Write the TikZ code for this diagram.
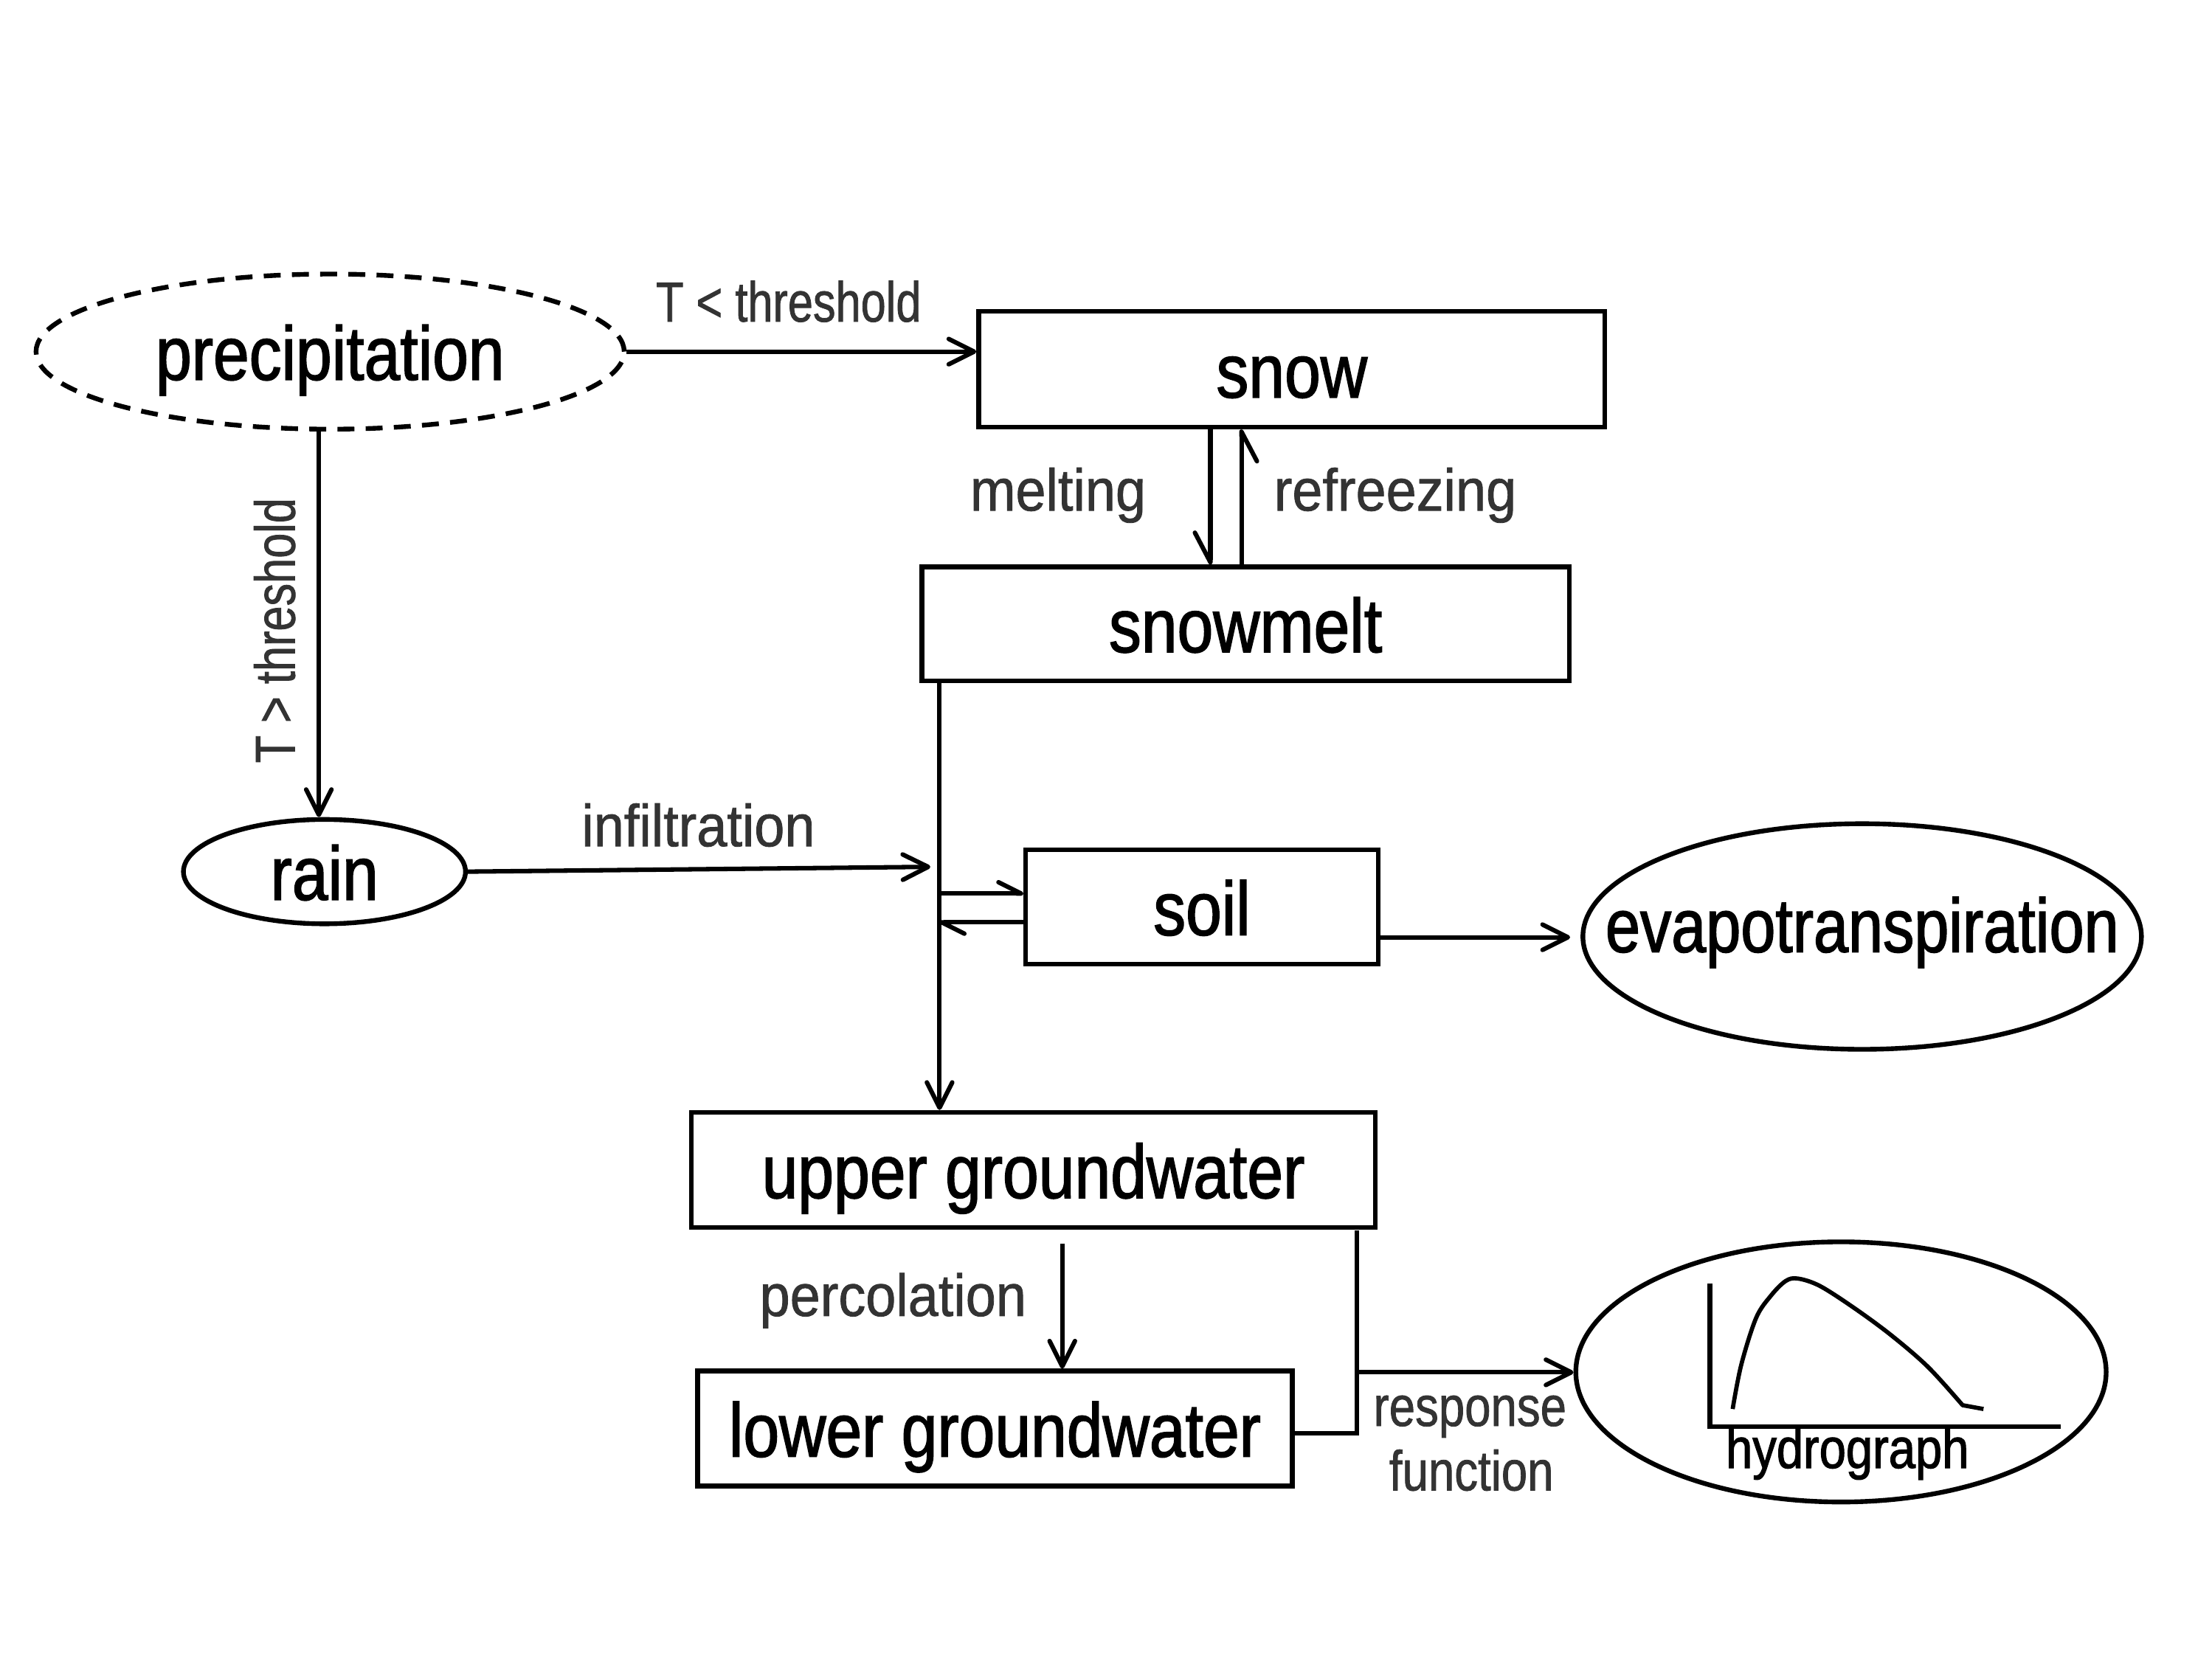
\documentclass[tikz,border=0pt]{standalone}
\usepackage{fontspec}
\setmainfont{Liberation Sans}
\newfontfamily\mainfnt[FakeStretch=0.85, FakeBold=1.5]{Liberation Sans}
\newfontfamily\evfnt[FakeStretch=0.82, FakeBold=1.5]{Liberation Sans}
\newfontfamily\lblfnt[FakeStretch=0.92, FakeBold=1]{Liberation Sans}
\newfontfamily\thrfnt[FakeStretch=0.80, FakeBold=1]{Liberation Sans}
\newfontfamily\rspfnt[FakeStretch=0.83, FakeBold=1]{Liberation Sans}
\usetikzlibrary{arrows.meta, shapes.geometric, calc}
\definecolor{lblgray}{HTML}{333333}
\tikzset{
  shp/.style={draw, line width=1.9pt, inner sep=0pt, text height=0.8cm, text depth=0pt,
    font=\mainfnt\fontsize{30.7}{36}\selectfont},
  boxnode/.style={shp, rectangle},
  ellnode/.style={shp, ellipse},
  arr/.style={line width=1.8pt, -{Straight Barb[round, length=0.36cm, width=0.36cm]}},
  harpS/.style={line width=1.8pt, -{Straight Barb[round, left, length=0.32cm, width=0.32cm]}},
  harpM/.style={line width=1.8pt, -{Straight Barb[round, right, length=0.42cm, width=0.44cm]}},
  conn/.style={line width=1.8pt},
  lbl/.style={anchor=base, text=lblgray, inner sep=0pt, font=\lblfnt\fontsize{23.9}{28}\selectfont},
  thr/.style={lbl, font=\thrfnt\fontsize{22.8}{27}\selectfont},
  rsp/.style={lbl, font=\rspfnt\fontsize{22.8}{27}\selectfont},
}
\begin{document}
\begin{tikzpicture}[x=0.02cm, y=-0.02cm]
\useasboundingbox[fill=white] (0,0) rectangle (1568,1176);

% nodes
\node[ellnode, line width=1.9pt, dash pattern=on 0.24cm off 0.16cm, minimum width=8.34cm, minimum height=2.2cm] (precip) at (234,249.3) {precipitation};
\node[boxnode, minimum width=8.88cm, minimum height=1.64cm] (snow) at (915.7,261.8) {snow};
\node[boxnode, minimum width=9.18cm, minimum height=1.62cm] (snowmelt) at (882.9,442.4) {snowmelt};
\node[ellnode, minimum width=4cm, minimum height=1.48cm] (rain) at (230,618) {rain};
\node[boxnode, minimum width=5cm, minimum height=1.62cm] (soil) at (852,643) {soil};
\node[ellnode, minimum width=7.92cm, minimum height=3.2cm, text height=0.44cm, font=\evfnt\fontsize{30.7}{36}\selectfont] (evapo) at (1320,664) {\makebox[0pt]{evapotranspiration}};
\node[boxnode, minimum width=9.7cm, minimum height=1.63cm] (ugw) at (732.5,829.4) {upper groundwater};
\node[boxnode, minimum width=8.43cm, minimum height=1.63cm] (lgw) at (705.3,1012.8) {lower groundwater};
\node[ellnode, minimum width=7.52cm, minimum height=3.69cm] (hydro) at (1305,972.7) {};

% coordinates
\coordinate (px) at (226,0);
\coordinate (mx) at (858,0);
\coordinate (rx) at (880,0);
\coordinate (jx) at (666,0);
\coordinate (jin) at (659.5,614.6);
\coordinate (s1) at (666,633.5);
\coordinate (s2) at (666,654);
\coordinate (et) at (1113,664.5);
\coordinate (pc1) at (753,881.6);
\coordinate (rtop) at (962,872.6);
\coordinate (rbot) at (962,1016);
\coordinate (rmid) at (962,973);

% connectors
\draw[arr] (precip.east) -- (snow.west |- precip.east);
\draw[arr] (precip.south -| px) -- (rain.north -| px);
\draw[harpM] (snow.south -| mx) -- (snowmelt.north -| mx);
\draw[harpM] (snowmelt.north -| rx) -- (snow.south -| rx);
\draw[arr] (rain.east) -- (jin);
\draw[arr] (snowmelt.south -| jx) -- (ugw.north -| jx);
\draw[harpS] (s1) -- (soil.west |- s1);
\draw[harpS] (soil.west |- s2) -- (s2);
\draw[arr] (soil.east |- et) -- (et);
\draw[arr] (pc1) -- (pc1 |- lgw.north);
\draw[conn] (rtop) -- (rbot) -- (lgw.east |- rbot);
\draw[arr] (rmid) -- (hydro.west |- rmid);

% hydrograph drawing
\draw[line width=1.9pt] (1212,910) -- (1212,1011.6) -- (1461,1011.6);
\draw[line width=1.7pt, line join=round] plot[smooth, tension=0.55] coordinates {(1228.2,999) (1234.3,967.6) (1244.8,934.5) (1255.2,918.8) (1265.7,908.3) (1274.4,906.5) (1290.1,911.8) (1314.5,927.5) (1340.6,946.7) (1366.8,969.3) (1391.2,996.3)} -- (1406,999);

% labels
\node[thr] (lthrA) at (559,228) {T < threshold};
\node[thr, rotate=90] (lthrB) at (209,447) {T > threshold};
\node[lbl] (lmelt) at (750,362) {melting};
\node[lbl] (lrefr) at (989,362) {refreezing};
\node[lbl] (linf) at (495,600) {infiltration};
\node[lbl] (lperc) at (633,933) {percolation};
\node[rsp] (lresp) at (1042,1011) {response};
\node[rsp] (lfunc) at (1043,1056.7) {function};
\node[anchor=base, inner sep=0pt, font=\mainfnt\fontsize{22.8}{27}\selectfont] (lhyd) at (1309.5,1040.8) {hydrograph};
\end{tikzpicture}
\end{document}
